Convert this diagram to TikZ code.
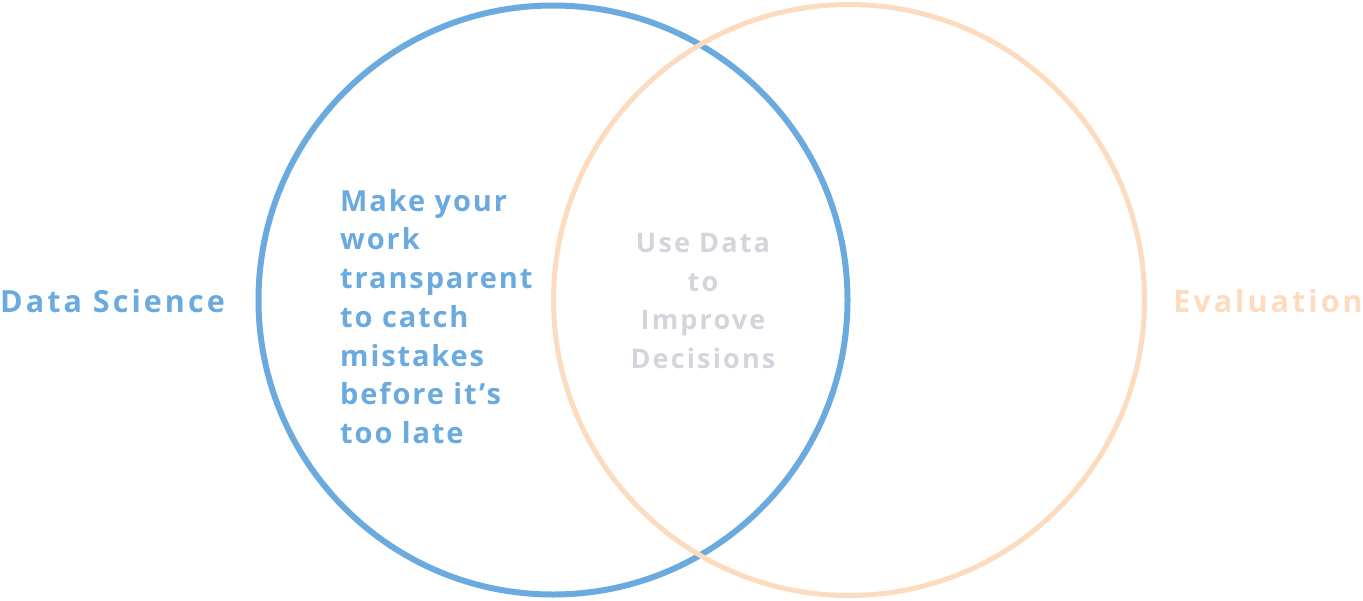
\documentclass[tikz,border=0pt]{standalone}
\usepackage{fontspec}
\setmainfont{Open Sans}[UprightFont=* Bold, LetterSpace=8]
\definecolor{dsblue}{HTML}{6AAADF}
\definecolor{evorange}{HTML}{FDDBBF}
\definecolor{midgray}{HTML}{D2D5DB}
\begin{document}
\begin{tikzpicture}[x=1pt,y=-1pt,
  ring/.style={circle,minimum size=#1,inner sep=0pt},
  label/.style={inner sep=0pt,font=\fontsize{29}{38.7}\selectfont\addfontfeature{LetterSpace=6.5}},
  side/.style={inner sep=0pt,font=\fontsize{30.5}{36}\selectfont\addfontfeature{LetterSpace=10}}]
\useasboundingbox (0,0) rectangle (1363,600);
\node[ring=589, draw=dsblue, line width=6] (ds) at (553,300) {};
\node[ring=591, draw=evorange, line width=5] (ev) at (849,300) {};
\node[side, text=dsblue, anchor=base west] (dsl) at (0,312) {Data Science};
\node[side, text=evorange, anchor=base east] (evl) at (1363,312) {Evaluation};
\node[label, text=dsblue, align=left, anchor=north west] (dst) at (340,189) {Make your\\work\\transparent\\to catch\\mistakes\\before it’s\\too late};
\node[inner sep=0pt, font=\fontsize{27}{38.7}\selectfont, text=midgray, align=center, anchor=north] (mid) at (703,233) {Use Data\\to\\Improve\\Decisions};
\end{tikzpicture}
\end{document}
